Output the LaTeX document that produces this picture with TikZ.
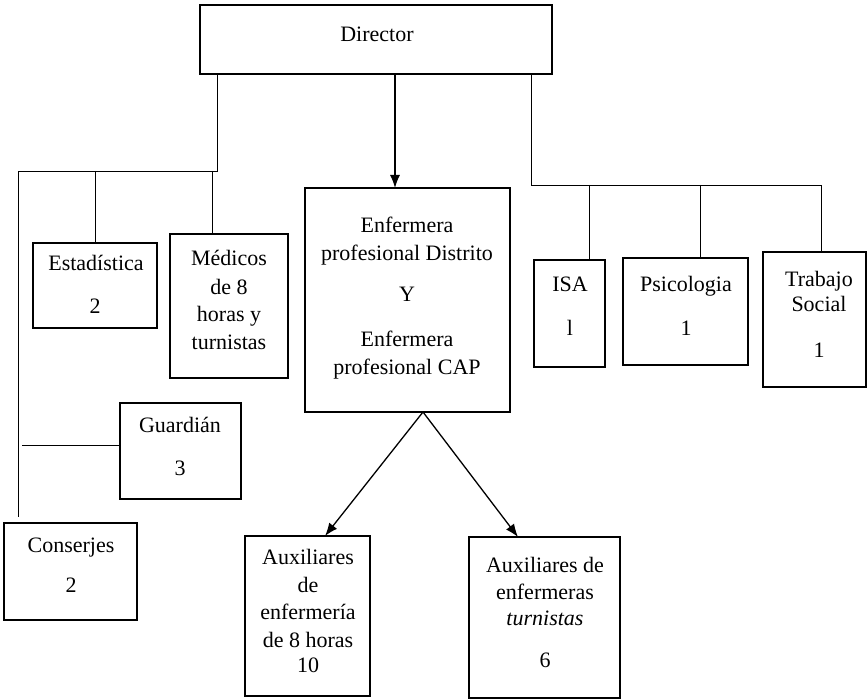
\documentclass[tikz,border=0pt]{standalone}
\usepackage{fontspec}
\setmainfont{Liberation Serif}
\usetikzlibrary{arrows.meta}
\begin{document}
\begin{tikzpicture}[x=1pt,y=-1pt,
  box/.style={draw, line width=1.5pt, rectangle, inner sep=0pt, outer sep=0pt},
  conn/.style={line width=0.9pt},
  arr/.style={line width=1.3pt, -{Latex[length=13pt,width=10pt]}},
  lbl/.style={font=\fontsize{22}{27}\selectfont, anchor=base, inner sep=0pt}]
\useasboundingbox[fill=white] (0,0) rectangle (867,700);

% boxes
\node[box, minimum width=352pt, minimum height=69pt] (dir) at (376,39.5) {};
\node[box, minimum width=124pt, minimum height=85pt] (est) at (95,285.5) {};
\node[box, minimum width=118pt, minimum height=144pt] (med) at (229,306) {};
\node[box, minimum width=121pt, minimum height=96pt] (gua) at (180.5,451) {};
\node[box, minimum width=133pt, minimum height=97pt] (con) at (70.5,571.5) {};
\node[box, line width=1.2pt, minimum width=205pt, minimum height=224pt] (enf) at (407.5,300) {};
\node[box, minimum width=125pt, minimum height=160pt] (auxl) at (307.5,616) {};
\node[box, minimum width=151pt, minimum height=161pt] (auxr) at (544.5,617.5) {};
\node[box, minimum width=71pt, minimum height=107pt] (isa) at (569.5,313.5) {};
\node[box, minimum width=125pt, minimum height=107pt] (psi) at (685.5,311.5) {};
\node[box, minimum width=103pt, minimum height=135pt] (tra) at (814.5,319.5) {};

% texts
\node[lbl] (tdir) at (377,42) {Director};
\node[lbl] (test1) at (96,271) {Estadística};
\node[lbl] (test2) at (95,314) {2};
\node[lbl] (tmed1) at (229,266) {Médicos};
\node[lbl] (tmed2) at (229,295) {de 8};
\node[lbl] (tmed3) at (229,322) {horas y};
\node[lbl] (tmed4) at (229,350) {turnistas};
\node[lbl] (tgua1) at (180,432) {Guardián};
\node[lbl] (tgua2) at (180,475) {3};
\node[lbl] (tcon1) at (71,552) {Conserjes};
\node[lbl] (tcon2) at (71,592) {2};
\node[lbl] (tenf1) at (407,233) {Enfermera};
\node[lbl] (tenf2) at (407,261) {profesional Distrito};
\node[lbl] (tenf3) at (407,302) {Y};
\node[lbl] (tenf4) at (407,346) {Enfermera};
\node[lbl] (tenf5) at (407,374) {profesional CAP};
\node[lbl] (tisa1) at (570,292) {ISA};
\node[lbl] (tisa2) at (570,336) {l};
\node[lbl] (tpsi1) at (686,292) {Psicologia};
\node[lbl] (tpsi2) at (686,336) {1};
\node[lbl] (ttra1) at (819,287) {Trabajo};
\node[lbl] (ttra2) at (819,312) {Social};
\node[lbl] (ttra3) at (819,357) {1};
\node[lbl] (tal1) at (308,564) {Auxiliares};
\node[lbl] (tal2) at (308,592) {de};
\node[lbl] (tal3) at (308,619) {enfermería};
\node[lbl] (tal4) at (308,647) {de 8 horas};
\node[lbl] (tal5) at (308,672) {10};
\node[lbl] (tar1) at (545,572) {Auxiliares de};
\node[lbl] (tar2) at (545,599) {enfermeras};
\node[lbl] (tar3) at (545,625) {\textit{turnistas}};
\node[lbl] (tar4) at (545,667) {6};

% left tree
\coordinate (jl) at (217,171);
\coordinate (jlw) at (18,171);
\coordinate (jlb) at (18,517);
\coordinate (jm) at (212,171);
\coordinate (gl) at (22,445);
\draw[conn] (jl |- dir.south) -- (jl) -- (jlw) -- (jlb);
\draw[conn] (est.north |- jl) -- (est.north);
\draw[conn] (jm) -- (jm |- med.north);
\draw[conn] (gl) -- (gl -| gua.west);

% centre
\coordinate (ea) at (395,0);
\draw[arr] (ea |- dir.south) -- (ea |- enf.north);
\coordinate (eb) at (423,0);
\coordinate (al) at (325,0);
\coordinate (ar) at (518,0);
\draw[arr] (eb |- enf.south) -- (al |- auxl.north);
\draw[arr] (eb |- enf.south) -- (ar |- auxr.north);

% right tree
\coordinate (jr) at (531,185);
\coordinate (jre) at (821,185);
\coordinate (ji) at (589,185);
\coordinate (jp) at (700,185);
\draw[conn] (jr |- dir.south) -- (jr) -- (jre) -- (jre |- tra.north);
\draw[conn] (ji) -- (ji |- isa.north);
\draw[conn] (jp) -- (jp |- psi.north);
\end{tikzpicture}
\end{document}
